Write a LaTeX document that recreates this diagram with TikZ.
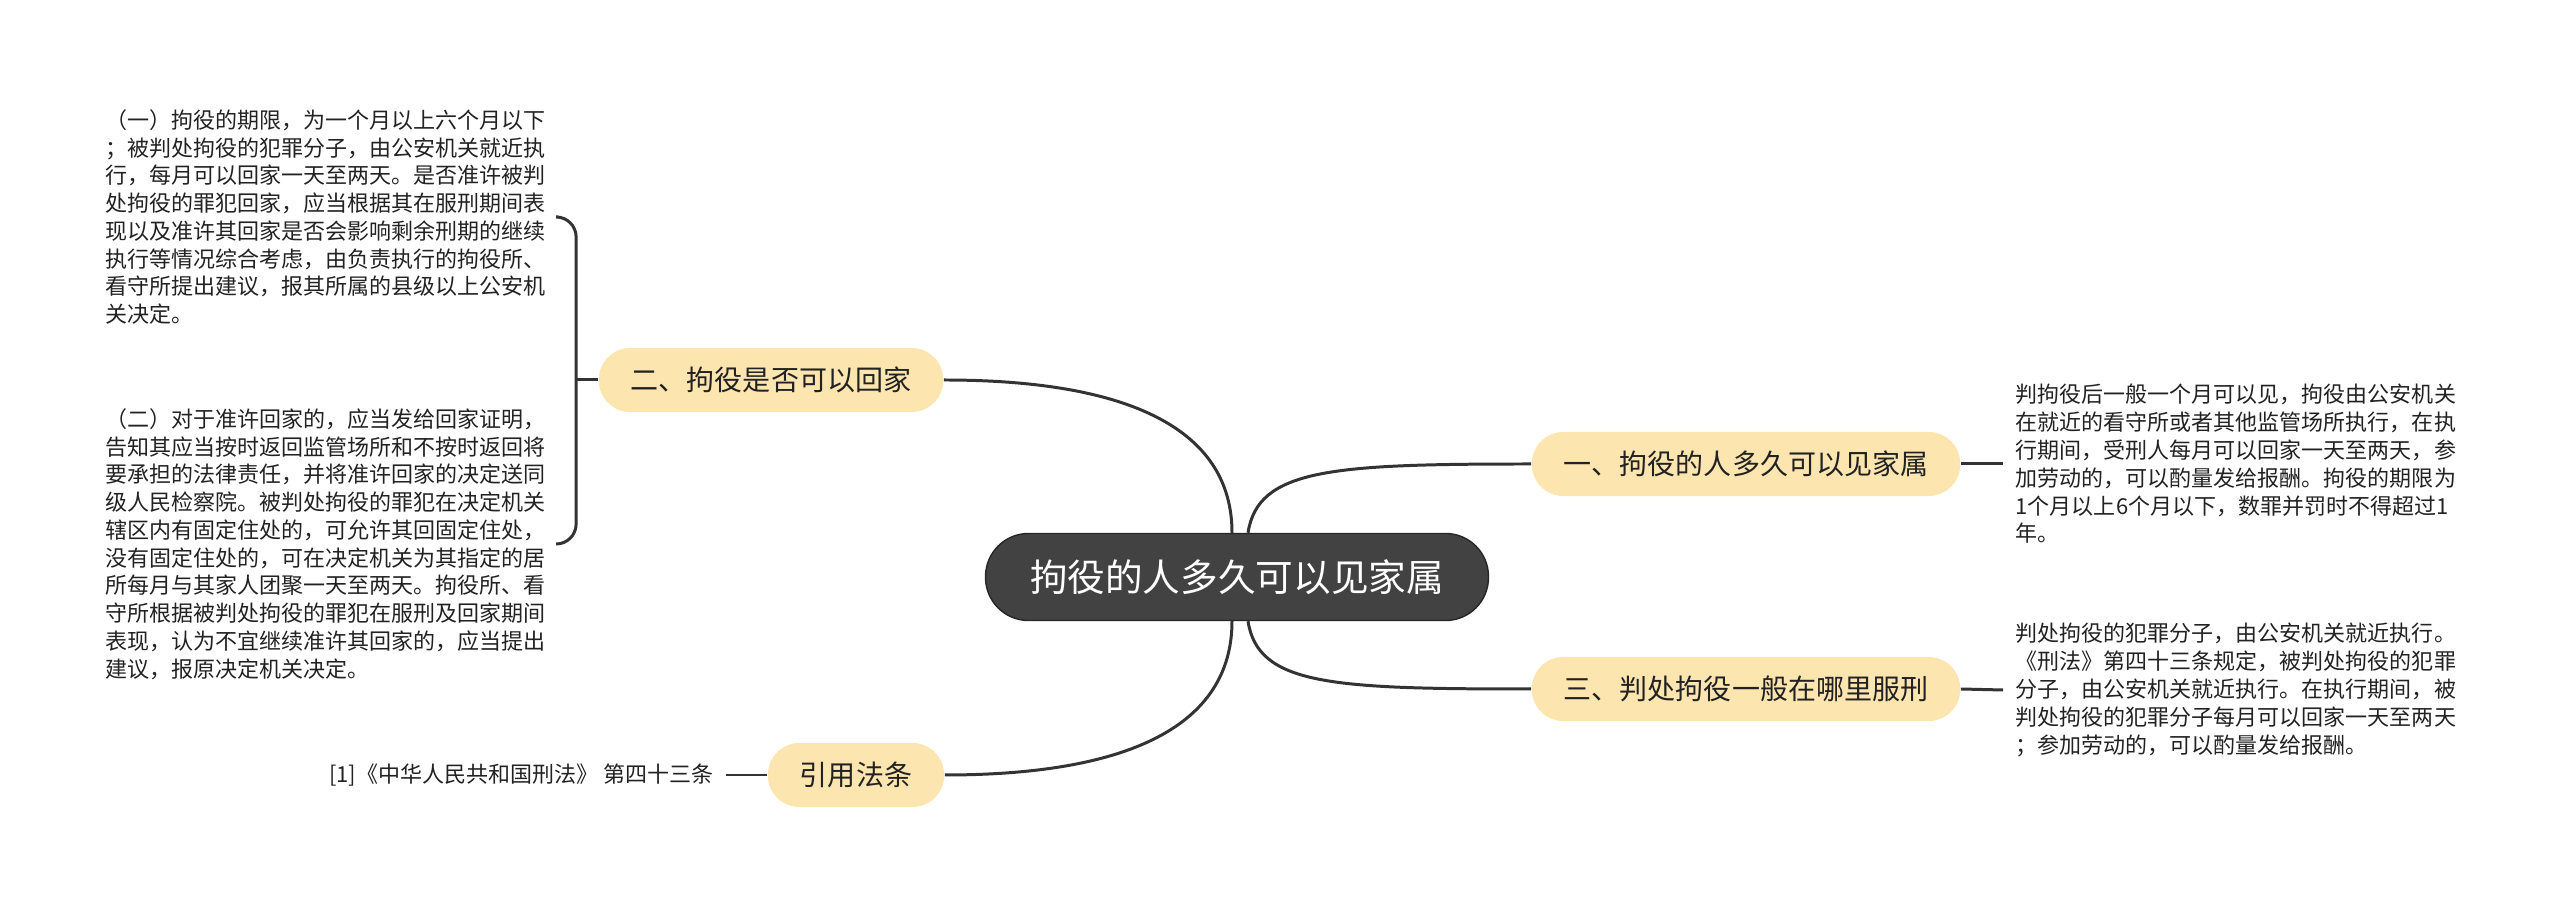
\documentclass[tikz,border=0pt]{standalone}
\usepackage{fontspec}
\setmainfont{Noto Sans CJK SC}
\definecolor{linkgray}{RGB}{51,51,51}
\definecolor{rootgray}{RGB}{66,66,66}
\definecolor{topicfill}{RGB}{252,229,175}
\definecolor{textgray}{RGB}{34,34,34}
\begin{document}
\begin{tikzpicture}[x=0.01cm,y=-0.01cm,
    link/.style={draw=linkgray,line width=0.85pt},
    root/.style={fill=rootgray,draw=black!85,line width=0.4pt,text=white,rounded corners=0.43cm,
        minimum height=0.87cm,inner xsep=0.445cm,font=\fontsize{10.7}{12}\selectfont},
    topic/.style={fill=topicfill,text=textgray,rounded corners=0.315cm,
        minimum height=0.64cm,inner xsep=0.32cm,font=\fontsize{7.97}{9}\selectfont},
    detail/.style={align=left,text=textgray,inner xsep=0.12cm,inner ysep=0pt,
        font=\fontsize{6.26}{7.9}\selectfont}]
\useasboundingbox (0,0) rectangle (2560,901);
\node[root] (root) at (1237,577) {拘役的人多久可以见家属};
\node[topic] (n1) at (1746,464) {一、拘役的人多久可以见家属};
\node[topic] (n2) at (771,380) {二、拘役是否可以回家};
\node[topic] (n3) at (1746,689) {三、判处拘役一般在哪里服刑};
\node[topic] (n4) at (856,775) {引用法条};
\node[detail,anchor=west] (d1) at (93,217) {（一）拘役的期限，为一个月以上六个月以下\\；被判处拘役的犯罪分子，由公安机关就近执\\行，每月可以回家一天至两天。是否准许被判\\处拘役的罪犯回家，应当根据其在服刑期间表\\现以及准许其回家是否会影响剩余刑期的继续\\执行等情况综合考虑，由负责执行的拘役所、\\看守所提出建议，报其所属的县级以上公安机\\关决定。};
\node[detail,anchor=west] (d2) at (93,544) {（二）对于准许回家的，应当发给回家证明，\\告知其应当按时返回监管场所和不按时返回将\\要承担的法律责任，并将准许回家的决定送同\\级人民检察院。被判处拘役的罪犯在决定机关\\辖区内有固定住处的，可允许其回固定住处，\\没有固定住处的，可在决定机关为其指定的居\\所每月与其家人团聚一天至两天。拘役所、看\\守所根据被判处拘役的罪犯在服刑及回家期间\\表现，认为不宜继续准许其回家的，应当提出\\建议，报原决定机关决定。};
\node[detail,anchor=west] (d3) at (2003,464) {判拘役后一般一个月可以见，拘役由公安机关\\在就近的看守所或者其他监管场所执行，在执\\行期间，受刑人每月可以回家一天至两天，参\\加劳动的，可以酌量发给报酬。拘役的期限为\\1个月以上6个月以下，数罪并罚时不得超过1\\年。};
\node[detail,anchor=west] (d4) at (2003,690) {判处拘役的犯罪分子，由公安机关就近执行。\\《刑法》第四十三条规定，被判处拘役的犯罪\\分子，由公安机关就近执行。在执行期间，被\\判处拘役的犯罪分子每月可以回家一天至两天\\；参加劳动的，可以酌量发给报酬。};
\node[detail,anchor=east] (ref) at (726,775) {[1]《中华人民共和国刑法》 第四十三条};
\coordinate (brace) at ([xshift=-0.22cm]n2.west);
\draw[link] ([xshift=-0.05cm]root.north) .. controls +(0,-90) and +(210,0) .. (n2.east);
\draw[link] ([xshift=-0.05cm]root.south) .. controls +(0,90) and +(210,0) .. (n4.east);
\draw[link] ([xshift=0.11cm]root.north) .. controls +(10,-64) and +(-200,0) .. (n1.west);
\draw[link] ([xshift=0.11cm]root.south) .. controls +(10,64) and +(-200,0) .. (n3.west);
\draw[link,rounded corners=0.2cm] (d1.east) -| (brace) |- (d2.east);
\draw[link] (brace) -- (n2.west);
\draw[link] (n1.east) -- (d3.west);
\draw[link] (n3.east) -- (d4.west);
\draw[link] (ref.east) -- (n4.west);
\end{tikzpicture}
\end{document}
